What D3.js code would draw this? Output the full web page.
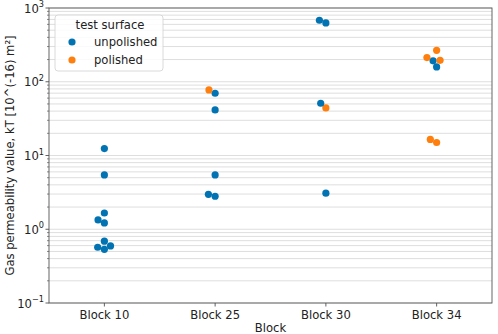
<!DOCTYPE html>
<html><head><meta charset="utf-8">
<script src="https://cdn.jsdelivr.net/npm/d3@7"></script>
<style>body{margin:0;background:#fff;} svg{display:block;font-family:"DejaVu Sans",sans-serif;}</style>
</head><body>
<svg id="chart" width="498" height="334"></svg>
<script>
const categories = ["Block 10", "Block 25", "Block 30", "Block 34"];
const seriesNames = ["unpolished", "polished"];
const unpolished = [
  [12.4, 5.45, 1.66, 1.34, 1.22, 0.69, 0.57, 0.535, 0.594],
  [69.8, 41.5, 5.45, 2.98, 2.8],
  [682, 627, 51.1, 3.08],
  [192, 159]
];
const polished = [
  [],
  [77.4],
  [44.1],
  [267, 213, 195, 16.5, 15.0]
];
const yTickExps = [-1, 0, 1, 2, 3];
const colors = {unpolished: "#0173b2", polished: "#ff7f0e"};

const W = 498, H = 334;
const m = {left: 49, right: 6, top: 8, bottom: 31};
const FS = 11.6;
const svg = d3.select("#chart");
const x = d3.scalePoint().domain(categories).range([m.left, W - m.right]).padding(0.5);
const y = d3.scaleLog().domain([0.1, 1000]).range([H - m.bottom, m.top]);

// grid (major + minor)
const gridVals = [];
for (let e = -1; e < 3; e++) for (let k = 1; k < 10; k++) gridVals.push(k * Math.pow(10, e));
gridVals.push(1000);
const grid = svg.append("g");
grid.selectAll("line").data(gridVals).join("line")
  .attr("x1", m.left).attr("x2", W - m.right)
  .attr("y1", d => y(d)).attr("y2", d => y(d))
  .attr("stroke", "#dedede").attr("stroke-width", 1);

// swarm layout
const r = 3.6, dia = 7.0;
const points = [];
categories.forEach((c, i) => {
  const pts = [];
  unpolished[i].forEach(v => pts.push({cat: c, v, s: "unpolished"}));
  polished[i].forEach(v => pts.push({cat: c, v, s: "polished"}));
  pts.forEach(p => p.py = y(p.v));
  pts.sort((a, b) => b.py - a.py);
  const cx = x(c);
  const placed = [];
  pts.forEach(p => {
    const cands = [cx];
    placed.forEach(q => {
      const dy = Math.abs(q.py - p.py);
      if (dy < dia) {
        const dx = Math.sqrt(dia * dia - dy * dy);
        cands.push(q.px - dx, q.px + dx);
      }
    });
    const order = cands.map((v, k) => ({v, k})).sort((a, b) => {
      const da = Math.abs(a.v - cx), db = Math.abs(b.v - cx);
      return Math.abs(da - db) < 1e-9 ? a.k - b.k : da - db;
    });
    let chosen = cx;
    for (const o of order) {
      const ok = placed.every(q => Math.hypot(q.px - o.v, q.py - p.py) >= dia - 1e-6);
      if (ok) { chosen = o.v; break; }
    }
    p.px = chosen;
    placed.push(p);
    points.push(p);
  });
});

svg.append("g").selectAll("circle").data(points).join("circle")
  .attr("cx", d => d.px).attr("cy", d => d.py).attr("r", r)
  .attr("fill", d => colors[d.s]);

// axes
const axisCol = "#3a3a3a";
const yMinor = gridVals.filter(v => !yTickExps.some(e => Math.abs(Math.pow(10, e) - v) < 1e-9));
const ga = svg.append("g");
ga.selectAll("line.mn").data(yMinor).join("line").attr("class", "mn")
  .attr("x1", m.left - 2).attr("x2", m.left).attr("y1", d => y(d)).attr("y2", d => y(d))
  .attr("stroke", axisCol).attr("stroke-width", 0.6);
ga.selectAll("line.mj").data(yTickExps).join("line").attr("class", "mj")
  .attr("x1", m.left - 3.5).attr("x2", m.left).attr("y1", d => y(Math.pow(10, d))).attr("y2", d => y(Math.pow(10, d)))
  .attr("stroke", axisCol).attr("stroke-width", 0.8);
const yl = ga.selectAll("text.yl").data(yTickExps).join("text").attr("class", "yl")
  .attr("x", m.left - 5).attr("y", d => y(Math.pow(10, d)) + 4.5)
  .attr("text-anchor", "end").attr("font-size", FS).attr("fill", "#222");
yl.append("tspan").text("10");
yl.append("tspan").attr("dy", -5.5).attr("font-size", 8.2).text(d => d < 0 ? "\u2212" + Math.abs(d) : d);

ga.selectAll("line.xt").data(categories).join("line").attr("class", "xt")
  .attr("x1", d => x(d)).attr("x2", d => x(d)).attr("y1", H - m.bottom).attr("y2", H - m.bottom + 3.5)
  .attr("stroke", axisCol).attr("stroke-width", 0.8);
ga.selectAll("text.xl").data(categories).join("text").attr("class", "xl")
  .attr("x", d => x(d)).attr("y", H - m.bottom + 16).attr("text-anchor", "middle")
  .attr("font-size", FS).attr("fill", "#222").text(d => d);

svg.append("rect").attr("x", m.left).attr("y", m.top)
  .attr("width", W - m.right - m.left).attr("height", H - m.bottom - m.top)
  .attr("fill", "none").attr("stroke", "#555").attr("stroke-width", 0.9);

svg.append("text").attr("x", (m.left + W - m.right) / 2).attr("y", H - 2.5)
  .attr("text-anchor", "middle").attr("font-size", FS).attr("fill", "#222").text("Block");
svg.append("text").attr("transform", `translate(14,${(m.top + H - m.bottom) / 2}) rotate(-90)`)
  .attr("text-anchor", "middle").attr("font-size", FS).attr("fill", "#222")
  .text("Gas permeability value, kT [10^(-16) m\u00b2]");

// legend
const lg = svg.append("g").attr("transform", "translate(55,15)");
lg.append("rect").attr("width", 108).attr("height", 56).attr("rx", 3)
  .attr("fill", "#fff").attr("fill-opacity", 0.85).attr("stroke", "#d0d0d0").attr("stroke-width", 0.8);
lg.append("text").attr("x", 55).attr("y", 14).attr("text-anchor", "middle")
  .attr("font-size", FS).attr("fill", "#222").text("test surface");
const li = lg.selectAll("g.it").data(seriesNames).join("g").attr("class", "it")
  .attr("transform", (d, i) => `translate(0,${27 + i * 18})`);
li.append("circle").attr("cx", 17).attr("cy", 0).attr("r", r).attr("fill", d => colors[d]);
li.append("text").attr("x", 39).attr("y", 4).attr("font-size", FS).attr("fill", "#222").text(d => d);
</script>
</body></html>
